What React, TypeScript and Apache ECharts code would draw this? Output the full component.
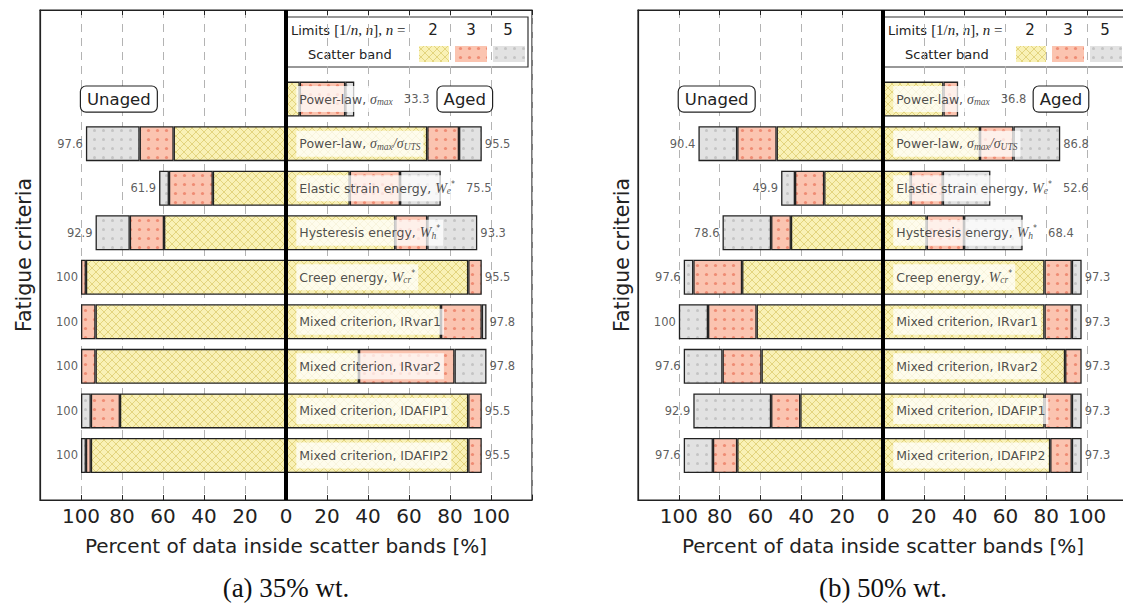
import React, { useEffect, useRef } from 'react';
import * as echarts from 'echarts';

// ---------------- data ----------------
const criteria = [
  'Power-law, {m|σ}{s|max}',
  'Power-law, {m|σ}{s|max}{m|/σ}{s|UTS}',
  'Elastic strain energy, {m|W}{s|e}{p|*}',
  'Hysteresis energy, {m|W}{s|h}{p|*}',
  'Creep energy, {m|W}{s|cr}{p|*}',
  'Mixed criterion, IRvar1',
  'Mixed criterion, IRvar2',
  'Mixed criterion, IDAFIP1',
  'Mixed criterion, IDAFIP2',
];
const captions = ['(a) 35% wt.', '(b) 50% wt.'];
const bandLimits = ['2', '3', '5'];

// Panel (a) 35% wt. — cumulative % inside band n=2, n=3, n=5
const unagedA2 = [null, 54.8, 35.7, 59.5, 97.6, 92.9, 92.9, 81.0, 95.2];
const unagedA3 = [null, 71.4, 57.1, 76.2, 100, 100, 100, 95.2, 97.6];
const unagedA5 = [null, 97.6, 61.9, 92.9, 100, 100, 100, 100, 100];
const agedA2 = [6.7, 68.9, 31.1, 53.3, 88.9, 75.6, 35.6, 88.9, 88.9];
const agedA3 = [28.9, 84.4, 55.6, 68.9, 95.5, 95.5, 82.2, 95.5, 95.5];
const agedA5 = [33.3, 95.5, 75.5, 93.3, 95.5, 97.8, 97.8, 95.5, 95.5];

// Panel (b) 50% wt.
const unagedB2 = [null, 52.1, 28.8, 45.1, 69.0, 61.9, 59.5, 40.5, 71.4];
const unagedB3 = [null, 71.4, 43.1, 54.8, 92.9, 85.7, 78.6, 54.8, 83.3];
const unagedB5 = [null, 90.4, 49.9, 78.6, 97.6, 100, 97.6, 92.9, 97.6];
const agedB2 = [29.6, 47.5, 13.6, 21.4, 79.1, 79.1, 89.2, 79.1, 81.9];
const agedB3 = [36.8, 63.9, 29.3, 39.7, 92.5, 92.5, 97.3, 92.5, 92.5];
const agedB5 = [36.8, 86.8, 52.6, 68.4, 97.3, 97.3, 97.3, 97.3, 97.3];

const panelData = [
  { u2: unagedA2, u3: unagedA3, u5: unagedA5, a2: agedA2, a3: agedA3, a5: agedA5 },
  { u2: unagedB2, u3: unagedB3, u5: unagedB5, a2: agedB2, a3: agedB3, a5: agedB5 },
];

// ---------------- layout ----------------
const X_MIN = -120;
const X_MAX = 120;
const X_STEP = 20;
const NAME_AT = 5;
const GRID_TOP = 10;
const GRID_H = 490;
const N_CAT = 12;
const gridsGeom = [
  { left: 40, width: 492 },
  { left: 638, width: 490 },
];
const SANS = 'DejaVu Sans';
const SERIF = 'Liberation Serif';
const INK = '#222';

const rich: any = {
  m: { fontFamily: SERIF, fontStyle: 'italic', fontSize: 14, lineHeight: 16, color: INK },
  s: { fontFamily: SERIF, fontStyle: 'italic', fontSize: 9.5, lineHeight: 9, verticalAlign: 'bottom', color: INK },
  p: { fontFamily: SANS, fontSize: 8, lineHeight: 9, verticalAlign: 'top', color: INK },
};
const fontOf: Record<string, string> = {
  '': `12.5px "${SANS}"`,
  m: `italic 14px "${SERIF}"`,
  s: `italic 9.5px "${SERIF}"`,
  p: `8px "${SANS}"`,
};

function measure(markup: string): number {
  const c = document.createElement('canvas');
  const ctx = c.getContext('2d')!;
  const re = /\{(\w)\|([^}]*)\}|([^{]+)/g;
  let m: RegExpExecArray | null;
  let w = 0;
  while ((m = re.exec(markup))) {
    const key = m[1] || '';
    const txt = m[1] ? m[2] : m[3];
    ctx.font = fontOf[key];
    w += ctx.measureText(txt).width;
  }
  return w;
}

function makeTile(size: number, draw: (ctx: CanvasRenderingContext2D, s: number) => void) {
  const c = document.createElement('canvas');
  c.width = size;
  c.height = size;
  const ctx = c.getContext('2d')!;
  draw(ctx, size);
  return { image: c.toDataURL(), repeat: 'repeat', imageWidth: size, imageHeight: size };
}

function makePatterns() {
  const yellow = makeTile(8, (ctx, s) => {
    ctx.fillStyle = '#f9f1b6';
    ctx.fillRect(0, 0, s, s);
    ctx.strokeStyle = '#e3d47e';
    ctx.lineWidth = 1;
    ctx.beginPath();
    for (const o of [-s, 0, s]) {
      ctx.moveTo(o, 0);
      ctx.lineTo(o + s, s);
      ctx.moveTo(o + s, 0);
      ctx.lineTo(o, s);
    }
    ctx.stroke();
  });
  const red = makeTile(9, (ctx, s) => {
    ctx.fillStyle = '#fbc4b0';
    ctx.fillRect(0, 0, s, s);
    ctx.fillStyle = '#ef8c74';
    ctx.beginPath();
    ctx.arc(s / 2, s / 2, 1.6, 0, Math.PI * 2);
    ctx.fill();
  });
  const grey = makeTile(9, (ctx, s) => {
    ctx.fillStyle = '#e2e2e2';
    ctx.fillRect(0, 0, s, s);
    ctx.fillStyle = '#c4c4c4';
    ctx.beginPath();
    ctx.arc(s / 2, s / 2, 1.5, 0, Math.PI * 2);
    ctx.fill();
  });
  return [yellow, red, grey];
}

const catIdx = (r: number) => 9 - r;

function toCat(vals: (number | null)[], sign: number) {
  const out: (number | null)[] = new Array(N_CAT).fill(null);
  vals.forEach((v, r) => {
    out[catIdx(r)] = v == null || v <= 0.001 ? null : sign * v;
  });
  return out;
}
function diff(hi: (number | null)[], lo: (number | null)[]) {
  return hi.map((v, i) => (v == null ? null : v - (lo[i] ?? 0)));
}
const fmt = (v: number) => String(v);

function buildOption() {
  const pats = makePatterns();
  const xAxis: any[] = [];
  const yAxis: any[] = [];
  const grid: any[] = [];
  const series: any[] = [];
  const graphic: any[] = [];
  const nameWidths = criteria.map(measure);

  gridsGeom.forEach((g, p) => {
    const d = panelData[p];
    const ppu = g.width / (X_MAX - X_MIN);
    const px = (v: number) => g.left + (v - X_MIN) * ppu;
    const rowY = (r: number) => GRID_TOP + (N_CAT - 1 - catIdx(r)) * (GRID_H / (N_CAT - 1));

    grid.push({
      left: g.left, top: GRID_TOP, width: g.width, height: GRID_H,
      containLabel: false, outerBoundsMode: 'none',
      show: true, borderColor: INK, borderWidth: 1.2, backgroundColor: 'transparent',
    });
    xAxis.push({
      gridIndex: p, type: 'value', min: X_MIN, max: X_MAX, interval: X_STEP, position: 'bottom',
      axisLine: { show: true, onZero: false, lineStyle: { color: INK, width: 1.2 } },
      axisTick: { show: true, inside: true, length: 5, lineStyle: { color: INK } },
      axisLabel: {
        fontSize: 20, color: INK, fontFamily: SANS, margin: 6,
        formatter: (v: number) => (Math.abs(v) <= 100 ? String(Math.abs(v)) : ''),
      },
      splitLine: { show: true, lineStyle: { color: '#b3b3b3', type: [8, 6], width: 1 } },
      name: 'Percent of data inside scatter bands [%]',
      nameLocation: 'middle', nameGap: 36,
      nameTextStyle: { fontSize: 20, fontFamily: SANS, color: INK },
    });
    xAxis.push({
      gridIndex: p, type: 'value', min: X_MIN, max: X_MAX, interval: X_STEP, position: 'top',
      axisLine: { show: true, onZero: false, lineStyle: { color: INK, width: 1.2 } },
      axisTick: { show: true, inside: true, length: 5, lineStyle: { color: INK } },
      axisLabel: { show: false },
      splitLine: { show: false },
    });
    yAxis.push({
      gridIndex: p, type: 'category', boundaryGap: false,
      data: Array.from({ length: N_CAT }, (_, i) => 'c' + i),
      axisLine: { show: true, onZero: false, lineStyle: { color: INK, width: 1.2 } },
      axisTick: { show: false }, axisLabel: { show: false }, splitLine: { show: false },
    });

    const segs = [
      { vals: toCat(d.u2, -1), pat: pats[0] },
      { vals: toCat(diff(d.u3, d.u2), -1), pat: pats[1] },
      { vals: toCat(diff(d.u5, d.u3), -1), pat: pats[2] },
      { vals: toCat(d.a2, 1), pat: pats[0] },
      { vals: toCat(diff(d.a3, d.a2), 1), pat: pats[1] },
      { vals: toCat(diff(d.a5, d.a3), 1), pat: pats[2] },
    ];
    segs.forEach((s, k) => {
      series.push({
        type: 'bar', xAxisIndex: 2 * p, yAxisIndex: p, stack: 'p' + p, barWidth: 35,
        silent: true, z: 2,
        data: s.vals,
        itemStyle: { color: s.pat, borderColor: INK, borderWidth: 1.3 },
        markLine: k === 0 ? {
          silent: true, symbol: ['none', 'none'], label: { show: false },
          lineStyle: { color: '#000', width: 4, type: 'solid' },
          data: [{ xAxis: 0 }],
        } : undefined,
      });
    });

    // criterion names (white boxes)
    series.push({
      type: 'scatter', xAxisIndex: 2 * p, yAxisIndex: p, symbolSize: 0.1, silent: true, z: 10,
      itemStyle: { color: 'transparent' },
      data: criteria.map((c, r) => ({ value: [NAME_AT, catIdx(r)], label: { formatter: c } })),
      label: {
        show: true, position: 'right', distance: 0,
        fontFamily: SANS, fontSize: 12.5, lineHeight: 16, color: INK,
        backgroundColor: 'rgba(255,255,255,0.92)', padding: [5, 3, 5, 3], rich,
      },
    });
    // unaged totals
    series.push({
      type: 'scatter', xAxisIndex: 2 * p, yAxisIndex: p, symbolSize: 0.1, silent: true, z: 10,
      itemStyle: { color: 'transparent' },
      data: d.u5
        .map((v, r) => (v == null ? null : { value: [-v, catIdx(r)], label: { formatter: fmt(v) } }))
        .filter((x) => x),
      label: { show: true, position: 'left', distance: 3, fontFamily: SANS, fontSize: 11.5, color: '#333' },
    });
    // aged totals, placed after bar end or after the criterion box
    series.push({
      type: 'scatter', xAxisIndex: 2 * p, yAxisIndex: p, symbolSize: 0.1, silent: true, z: 10,
      itemStyle: { color: 'transparent' },
      data: d.a5.map((v, r) => {
        const nameEnd = NAME_AT + (6 + nameWidths[r]) / ppu;
        const at = Math.max(v + 3 / ppu, nameEnd + 8 / ppu);
        return { value: [at, catIdx(r)], label: { formatter: fmt(v) } };
      }),
      label: { show: true, position: 'right', distance: 0, fontFamily: SANS, fontSize: 11.5, color: '#333' },
    });

    // Unaged / Aged tags
    const boxStyle = {
      fontFamily: SANS, fontSize: 16.5, fill: INK, backgroundColor: '#fff',
      borderColor: INK, borderWidth: 1.2, borderRadius: 5, padding: [4, 6, 4, 6], verticalAlign: 'middle',
    };
    graphic.push({
      type: 'text', x: px(-100), y: rowY(0), z: 20,
      style: { ...boxStyle, text: 'Unaged', align: 'left' },
    });
    graphic.push({
      type: 'text', x: px(100) + 1, y: rowY(0), z: 20,
      style: { ...boxStyle, text: 'Aged', align: 'right' },
    });

    // legend box
    const lx = px(0) - 1;
    const ly = 17;
    const swX = [134, 170, 208];
    const swW = [30, 32, 32];
    const numX = [148, 186, 223];
    graphic.push({
      type: 'group', x: lx, y: ly, z: 30,
      children: [
        { type: 'rect', shape: { x: 0, y: 0, width: 243, height: 50 }, style: { fill: '#fff', stroke: '#333', lineWidth: 1.2 } },
        {
          type: 'text', x: 6, y: 13,
          style: {
            text: '{t|Limits }{r|[1/}{i|n}{r|, }{i|n}{r|], }{i|n}{r| =}',
            verticalAlign: 'middle', align: 'left',
            rich: {
              t: { fontFamily: SANS, fontSize: 13, fill: INK },
              r: { fontFamily: SERIF, fontSize: 15, fill: INK },
              i: { fontFamily: SERIF, fontStyle: 'italic', fontSize: 15, fill: INK },
            },
          },
        },
        ...bandLimits.map((t, i) => ({
          type: 'text', x: numX[i], y: 13,
          style: { text: t, fontFamily: SANS, fontSize: 15, fill: INK, align: 'center', verticalAlign: 'middle' },
        })),
        {
          type: 'text', x: 23, y: 37,
          style: { text: 'Scatter band', fontFamily: SANS, fontSize: 13, fill: INK, align: 'left', verticalAlign: 'middle' },
        },
        ...pats.map((pt, i) => ({
          type: 'rect', shape: { x: swX[i], y: 29, width: swW[i], height: 16 }, style: { fill: pt },
        })),
      ],
    });

    // y-axis title
    graphic.push({
      type: 'text', x: g.left - 16, y: 255, rotation: Math.PI / 2, z: 20,
      style: { text: 'Fatigue criteria', fontFamily: SANS, fontSize: 20.5, fill: INK, align: 'center', verticalAlign: 'middle' },
    });
    // caption
    graphic.push({
      type: 'text', x: px(0), y: 588, z: 20,
      style: { text: captions[p], fontFamily: SERIF, fontSize: 27, fill: '#111', align: 'center', verticalAlign: 'middle' },
    });
  });

  return {
    animation: false,
    backgroundColor: '#fff',
    grid, xAxis, yAxis, series,
    graphic: { elements: graphic },
  };
}

export default function App() {
  const ref = useRef<HTMLDivElement>(null);
  useEffect(() => {
    if (!ref.current) return;
    const chart = echarts.init(ref.current, null, { renderer: 'svg' });
    chart.setOption(buildOption() as any);
    return () => chart.dispose();
  }, []);
  return (
    <div
      ref={ref}
      style={{ position: 'absolute', left: 0, top: 0, width: 1123, height: 606, background: '#fff' }}
    />
  );
}
